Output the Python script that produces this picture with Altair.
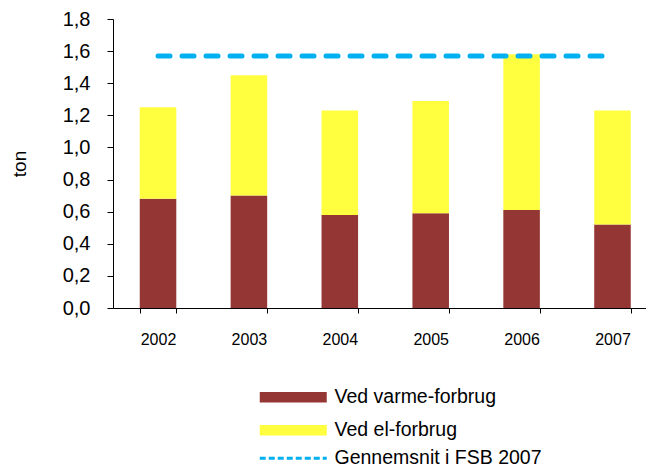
import altair as alt
import pandas as pd

years = ["2002", "2003", "2004", "2005", "2006", "2007"]
varme = [0.68, 0.70, 0.58, 0.59, 0.61, 0.52]
el = [0.57, 0.75, 0.65, 0.70, 0.97, 0.71]
avg_fsb = [1.57, 1.57, 1.57, 1.57, 1.57, 1.57]

series = ["Ved varme-forbrug", "Ved el-forbrug"]
bar_colors = ["#943634", "#FFFF40"]
line_name = "Gennemsnit i FSB 2007"
line_color = "#00B0F0"
y_ticks = [0, 0.2, 0.4, 0.6, 0.8, 1.0, 1.2, 1.4, 1.6, 1.8]

rows = []
for i, y in enumerate(years):
    rows.append({"year": y, "serie": series[0], "value": varme[i], "ord": 0})
    rows.append({"year": y, "serie": series[1], "value": el[i], "ord": 1})
bars_df = pd.DataFrame(rows)
line_df = pd.DataFrame({"year": years, "serie": [line_name] * len(years), "value": avg_fsb})

FONT = "Liberation Sans"


def x_enc():
    return alt.X(
        "year:N",
        title="",
        sort=years,
        scale=alt.Scale(paddingInner=0.598, paddingOuter=0.231, align=0.637),
        axis=alt.Axis(labelAngle=0, tickBand="extent", tickSize=5, labelPadding=18,
                      labelFontSize=16, labelFont=FONT, labelColor="#000000",
                      domainColor="#000000", tickColor="#000000"),
    )


def y_enc():
    return alt.Y(
        "value:Q",
        stack="zero",
        scale=alt.Scale(domain=[0, 1.8], nice=False),
        axis=alt.Axis(
            values=y_ticks,
            labelExpr="replace(format(datum.value, '.1f'), '.', ',')",
            labelOverlap=False,
            grid=False, tickSize=6, labelPadding=17, labelFontSize=20, labelFont=FONT,
            labelColor="#000000", domainColor="#000000", tickColor="#000000",
            title="ton", titleFontSize=19, titleFont=FONT, titleFontWeight="normal",
            titleColor="#000000", titleX=-94, titleBaseline="middle", titleAlign="center",
        ),
    )


bars = alt.Chart(bars_df).mark_bar().encode(
    x=x_enc(),
    y=y_enc(),
    fill=alt.Fill(
        "serie:N",
        scale=alt.Scale(domain=series, range=bar_colors),
        legend=alt.Legend(
            title=None, orient="none", legendX=170.5, legendY=368.5,
            symbolType="M-6.7,-1.05L6.7,-1.05L6.7,1.05L-6.7,1.05Z", symbolSize=100,
            symbolStrokeWidth=0, symbolOpacity=1, labelFontSize=19.5, labelFont=FONT,
            labelColor="#000000", rowPadding=12, labelOffset=31.5, padding=0,
            labelLimit=400,
        ),
    ),
    order=alt.Order("ord:Q"),
)

line = alt.Chart(line_df).mark_line(
    strokeWidth=5, strokeDash=[12, 12], strokeCap="round"
).encode(
    x=x_enc(),
    y=y_enc(),
    stroke=alt.Stroke(
        "serie:N",
        scale=alt.Scale(domain=[line_name], range=[line_color]),
        legend=alt.Legend(
            title=None, orient="none", legendX=170.5, legendY=429.5,
            symbolType="M-6.7,0L6.7,0", symbolSize=100, symbolStrokeWidth=3,
            symbolDash=[6, 3], labelFontSize=19.5, labelFont=FONT,
            labelColor="#000000", labelOffset=31.5, padding=0, labelLimit=400,
        ),
    ),
)

chart = alt.layer(bars, line).resolve_scale(fill="independent", stroke="independent").properties(
    width=533, height=289,
    autosize=alt.AutoSizeParams(type="none"),
    padding={"left": 105, "top": 11, "right": 0, "bottom": 160},
).configure_view(stroke=None)

chart.save("out.html", embed_options={"renderer": "svg", "actions": False})
